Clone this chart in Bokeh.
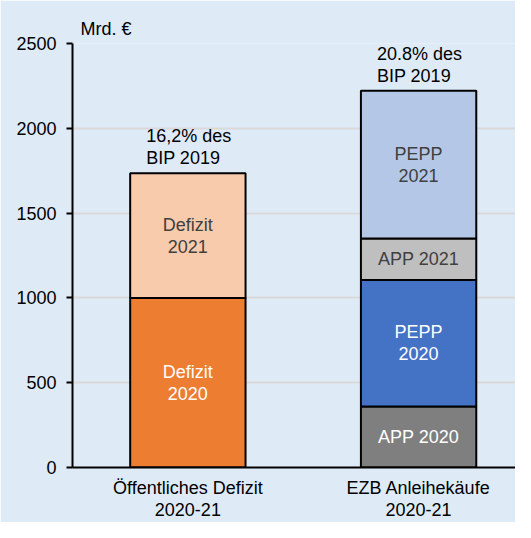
import numpy as np
from bokeh.plotting import figure
from bokeh.models import Range1d, FixedTicker, ColumnDataSource
from bokeh.core.properties import value
from bokeh.embed import file_html
from bokeh.resources import INLINE

# ---- data ----
categories = ["Öffentliches Defizit\n2020-21", "EZB Anleihekäufe\n2020-21"]
deficit_labels = ["Defizit\n2020", "Defizit\n2021"]
deficit_values = [1000, 735]
ecb_labels = ["APP 2020", "PEPP\n2020", "APP 2021", "PEPP\n2021"]
ecb_values = [360, 745, 245, 872]
top_notes = ["16,2% des\nBIP 2019", "20.8% des\nBIP 2019"]
y_ticks = [0, 500, 1000, 1500, 2000, 2500]

# ---- styles ----
BG = "#deebf7"
FONT = "Liberation Sans"
deficit_colors = ["#ed7d31", "#f8cbad"]
deficit_text = ["white", "#404040"]
ecb_colors = ["#7f7f7f", "#4472c4", "#bfbfbf", "#b4c7e7"]
ecb_text = ["white", "white", "#404040", "#404040"]
BAR_W = 0.5
LH = 1.1

xs, bottoms, tops, cols, labs, tcols = [], [], [], [], [], []
for i, (vals, lbls, cc, tc) in enumerate([(deficit_values, deficit_labels, deficit_colors, deficit_text),
                                         (ecb_values, ecb_labels, ecb_colors, ecb_text)]):
    cum = np.cumsum([0] + list(vals))
    for j in range(len(vals)):
        xs.append(i + 0.5)
        bottoms.append(cum[j])
        tops.append(cum[j + 1])
        cols.append(cc[j])
        labs.append(lbls[j])
        tcols.append(tc[j])

src = ColumnDataSource(dict(x=xs, bottom=bottoms, top=tops, color=cols, label=labs,
                            tcolor=tcols, mid=[(b + t) / 2 for b, t in zip(bottoms, tops)]))

totals = [sum(deficit_values), sum(ecb_values)]
note_src = ColumnDataSource(dict(x=[i + 0.5 - BAR_W / 2 for i in range(2)], y=totals, text=top_notes))

p = figure(width=515, height=522, x_range=Range1d(0, 1.92), y_range=Range1d(0, 2500),
           output_backend="svg", toolbar_location=None, title="Mrd. €",
           min_border_left=72, min_border_right=0, min_border_top=43, min_border_bottom=0,
           background_fill_color=BG, border_fill_color=BG, outline_line_color=None)

p.title.text_font = FONT
p.title.text_font_size = "18px"
p.title.text_font_style = "normal"
p.title.align = "left"
p.title.offset = 8
p.title.text_color = "black"

p.vbar(x="x", bottom="bottom", top="top", width=BAR_W, fill_color="color",
       line_color="black", line_width=2, source=src)
p.text(x="x", y="mid", text="label", text_color="tcolor", text_align="center",
       text_baseline="middle", text_font=value(FONT), text_font_size="18px",
       text_line_height=LH, source=src)
p.text(x="x", y="y", text="text", text_align="left", text_baseline="bottom", x_offset=16,
       y_offset=-5, text_color="black", text_font=value(FONT), text_font_size="18px",
       text_line_height=LH, source=note_src)

p.xgrid.visible = False
p.ygrid.ticker = FixedTicker(ticks=y_ticks)
p.ygrid.grid_line_color = "#d9d9d9"
p.ygrid.grid_line_width = 2

p.yaxis.ticker = FixedTicker(ticks=y_ticks)
p.yaxis.axis_line_color = "black"
p.yaxis.axis_line_width = 2
p.yaxis.major_tick_line_width = 2
p.yaxis.major_tick_in = 0
p.yaxis.major_tick_out = 6
p.yaxis.minor_tick_line_color = None
p.yaxis.major_label_text_font = FONT
p.yaxis.major_label_text_font_size = "18px"
p.yaxis.major_label_text_color = "black"
p.yaxis.major_label_standoff = 10

p.xaxis.ticker = FixedTicker(ticks=[0.5, 1.5])
p.xaxis.major_label_overrides = {0.5: categories[0], 1.5: categories[1]}
p.xaxis.axis_line_color = "black"
p.xaxis.axis_line_width = 2
p.xaxis.major_tick_line_color = None
p.xaxis.minor_tick_line_color = None
p.xaxis.major_label_text_font = FONT
p.xaxis.major_label_text_font_size = "18px"
p.xaxis.major_label_text_color = "black"
p.xaxis.major_label_text_line_height = LH
p.xaxis.major_label_standoff = 4

html = file_html(p, INLINE)
html = html.replace("<body>", '<body style="background:%s">' % BG, 1)
open("out.html", "w").write(html)
